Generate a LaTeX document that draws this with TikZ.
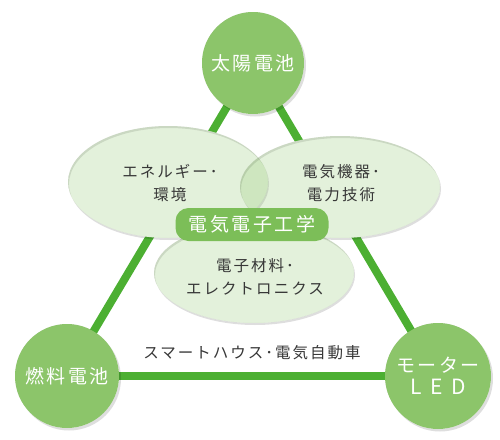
\documentclass[tikz,border=0pt]{standalone}
\usepackage{fontspec}
\newfontfamily\jpe[LetterSpace=13]{Noto Sans CJK JP}
\newfontfamily\jpc[LetterSpace=13]{Noto Sans CJK JP}
\newfontfamily\jpl[LetterSpace=42]{Noto Sans CJK JP}
\definecolor{cfill}{RGB}{140,197,106}
\definecolor{lgreen}{RGB}{76,175,50}
\definecolor{badge}{RGB}{124,190,88}
\definecolor{etext}{RGB}{55,55,55}
\tikzset{
  link/.style={draw=lgreen, line width=8pt},
  hub/.style={circle, fill=cfill, minimum size=102pt, inner sep=0pt, text=white, align=center,
    font=\jpc\fontsize{19}{23}\selectfont},
  elltext/.style={text=etext, align=center, font=\jpe\fontsize{15.5}{23}\selectfont},
  badgebox/.style={fill=badge, rounded corners=13pt, minimum width=153pt, minimum height=33pt,
    text=white, inner sep=0pt, font=\jpc\fontsize{19}{23}\selectfont},
  tint/.style={fill=cfill, fill opacity=0.24},
  shade/.style={fill=black, fill opacity=0.13, even odd rule}
}
\begin{document}
\begin{tikzpicture}[x=1pt,y=-1pt]
\useasboundingbox (0,0) rectangle (500,439);
% circle centres
\coordinate (cT) at (253,63);
\coordinate (cL) at (67,376);
\coordinate (cR) at (438,376);
% links
\draw[link] (cT) -- (cL);
\draw[link] (cT) -- (cR);
\draw[link] (cL) -- (cR);
% circle shadows
\fill[shade] ([shift={(2,2.5)}]cT) circle (51) (cT) circle (51);
\fill[shade] ([shift={(2,2.5)}]cL) circle (52) (cL) circle (52);
\fill[shade] ([shift={(2,2.5)}]cR) circle (53) (cR) circle (53);
% circles
\node[hub, minimum size=102pt] (top) at (cT) {太陽電池};
\node[hub, minimum size=104pt] (left) at (cL) {燃料電池};
\node[hub, minimum size=106pt] (right) at (cR) {モーター\\[-1pt]{\jpl\fontsize{21}{23}\selectfont LED}};
% ellipses
\coordinate (eL) at (168,182);
\coordinate (eR) at (340,187);
\coordinate (eB) at (254,273);
\fill[white] (eL) ellipse (100 and 56);
\fill[white] (eR) ellipse (100 and 51);
\fill[white] (eB) ellipse (100 and 50);
\fill[shade] ([shift={(1,2)}]eL) ellipse (100 and 56) (eL) ellipse (100 and 56);
\fill[tint] (eL) ellipse (100 and 56);
\fill[shade] ([shift={(1,2)}]eR) ellipse (100 and 51) (eR) ellipse (100 and 51);
\fill[tint] (eR) ellipse (100 and 51);
\fill[shade] ([shift={(1,2)}]eB) ellipse (100 and 50) (eB) ellipse (100 and 50);
\fill[tint] (eB) ellipse (100 and 50);
% texts
\node[elltext] (tL) at (170,183.5) {エネルギー･\\環境};
\node[elltext] (tR) at (341,183.5) {電気機器･\\電力技術};
\node[elltext] (tB) at (255,277) {電子材料･\\エレクトロニクス};
\node[badgebox] (core) at (252,224.5) {電気電子工学};
\node[elltext] (smart) at (252,353) {スマートハウス･電気自動車};
\end{tikzpicture}
\end{document}
